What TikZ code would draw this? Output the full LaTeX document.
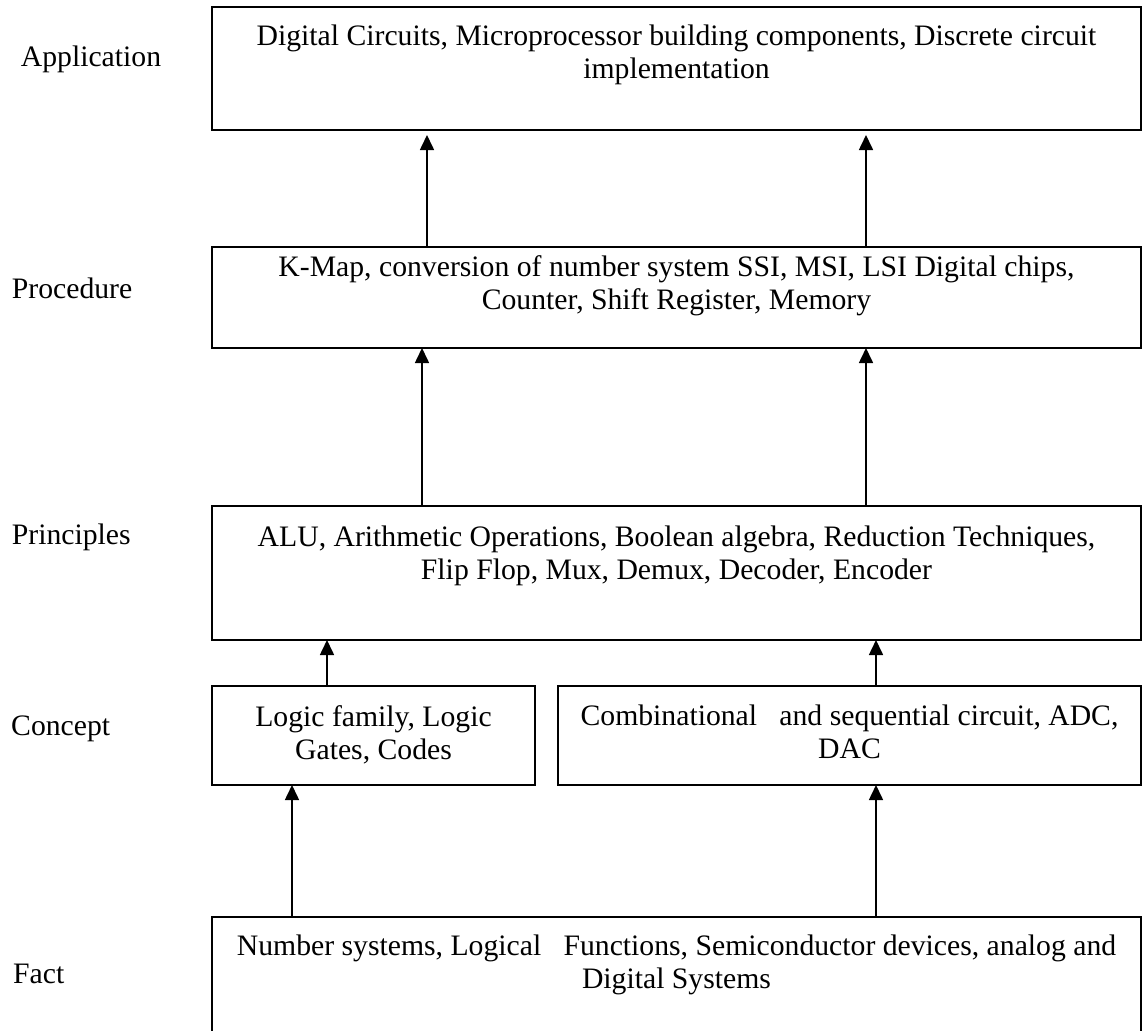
\documentclass[tikz,border=0pt]{standalone}
\usepackage{fontspec}
\setmainfont{Liberation Serif}
\usetikzlibrary{positioning,arrows.meta}
\tikzset{
  level/.style={
    % The shape:
    rectangle,
    anchor=north west,
    % The border:
    draw=black,
    line width=1.8pt,
    % The rest
    outer sep=0pt,inner sep=0pt},
  content/.style={
    % The text:
    align=center,
    inner sep=0pt},
  stage/.style={
    anchor=base west,
    inner sep=0pt}
}

\begin{document}
\begin{tikzpicture}[x=1pt,y=-1pt,
                    tip/.style={-{Triangle[width=14pt,length=15pt]},line width=1.6pt},
                    font=\fontsize{29.7}{33}\selectfont]

  \clip (0,0) rectangle (1142,1030);

  % Boxes:
  \node (application) [level,minimum width=929pt,minimum height=123pt] at (212,7)   {};
  \node (procedure)   [level,minimum width=929pt,minimum height=101pt] at (212,247) {};
  \node (principles)  [level,minimum width=929pt,minimum height=134pt] at (212,506) {};
  \node (conceptA)    [level,minimum width=323pt,minimum height=99pt]  at (212,686) {};
  \node (conceptB)    [level,minimum width=583pt,minimum height=99pt]  at (558,686) {};
  \node (fact)        [level,minimum width=929pt,minimum height=123pt] at (212,917) {};

  % Texts in the boxes:
  \node (application text) [content,below=18pt of application.north]
    {Digital Circuits, Microprocessor building components, Discrete circuit\\implementation};
  \node (procedure text) [content,below=8pt of procedure.north]
    {K-Map, conversion of number system SSI, MSI, LSI Digital chips,\\Counter, Shift Register, Memory};
  \node (principles text) [content,below=20pt of principles.north]
    {ALU, Arithmetic Operations, Boolean algebra, Reduction Techniques,\\Flip Flop, Mux, Demux, Decoder, Encoder};
  \node (conceptA text) [content,below=19pt of conceptA.north]
    {Logic family, Logic\\Gates, Codes};
  \node (conceptB text) [content,below=19pt of conceptB.north]
    {Combinational~~~and sequential circuit, ADC,\\DAC};
  \node (fact text) [content,below=18pt of fact.north]
    {Number systems, Logical~~~Functions, Semiconductor devices, analog and\\Digital Systems};

  % Levels on the left:
  \node (application label) [stage] at (20.7,67)  {Application};
  \node (procedure label)   [stage] at (11.7,298) {Procedure};
  \node (principles label)  [stage] at (11.7,544) {Principles};
  \node (concept label)     [stage] at (11,735)   {Concept};
  \node (fact label)        [stage] at (13,983)   {Fact};

  % Arrows:
  \draw[tip,shorten >=5pt] ([xshift=215pt]procedure.north west) -- ([xshift=215pt]application.south west);
  \draw[tip,shorten >=5pt] ([xshift=654pt]procedure.north west) -- ([xshift=654pt]application.south west);
  \draw[tip] ([xshift=210pt]principles.north west) -- ([xshift=210pt]procedure.south west);
  \draw[tip] ([xshift=654pt]principles.north west) -- ([xshift=654pt]procedure.south west);
  \draw[tip] ([xshift=115pt]conceptA.north west) -- ([xshift=115pt]principles.south west);
  \draw[tip] ([xshift=318pt]conceptB.north west) -- ([xshift=664pt]principles.south west);
  \draw[tip] ([xshift=80pt]fact.north west) -- ([xshift=80pt]conceptA.south west);
  \draw[tip] ([xshift=664pt]fact.north west) -- ([xshift=318pt]conceptB.south west);

\end{tikzpicture}
\end{document}
